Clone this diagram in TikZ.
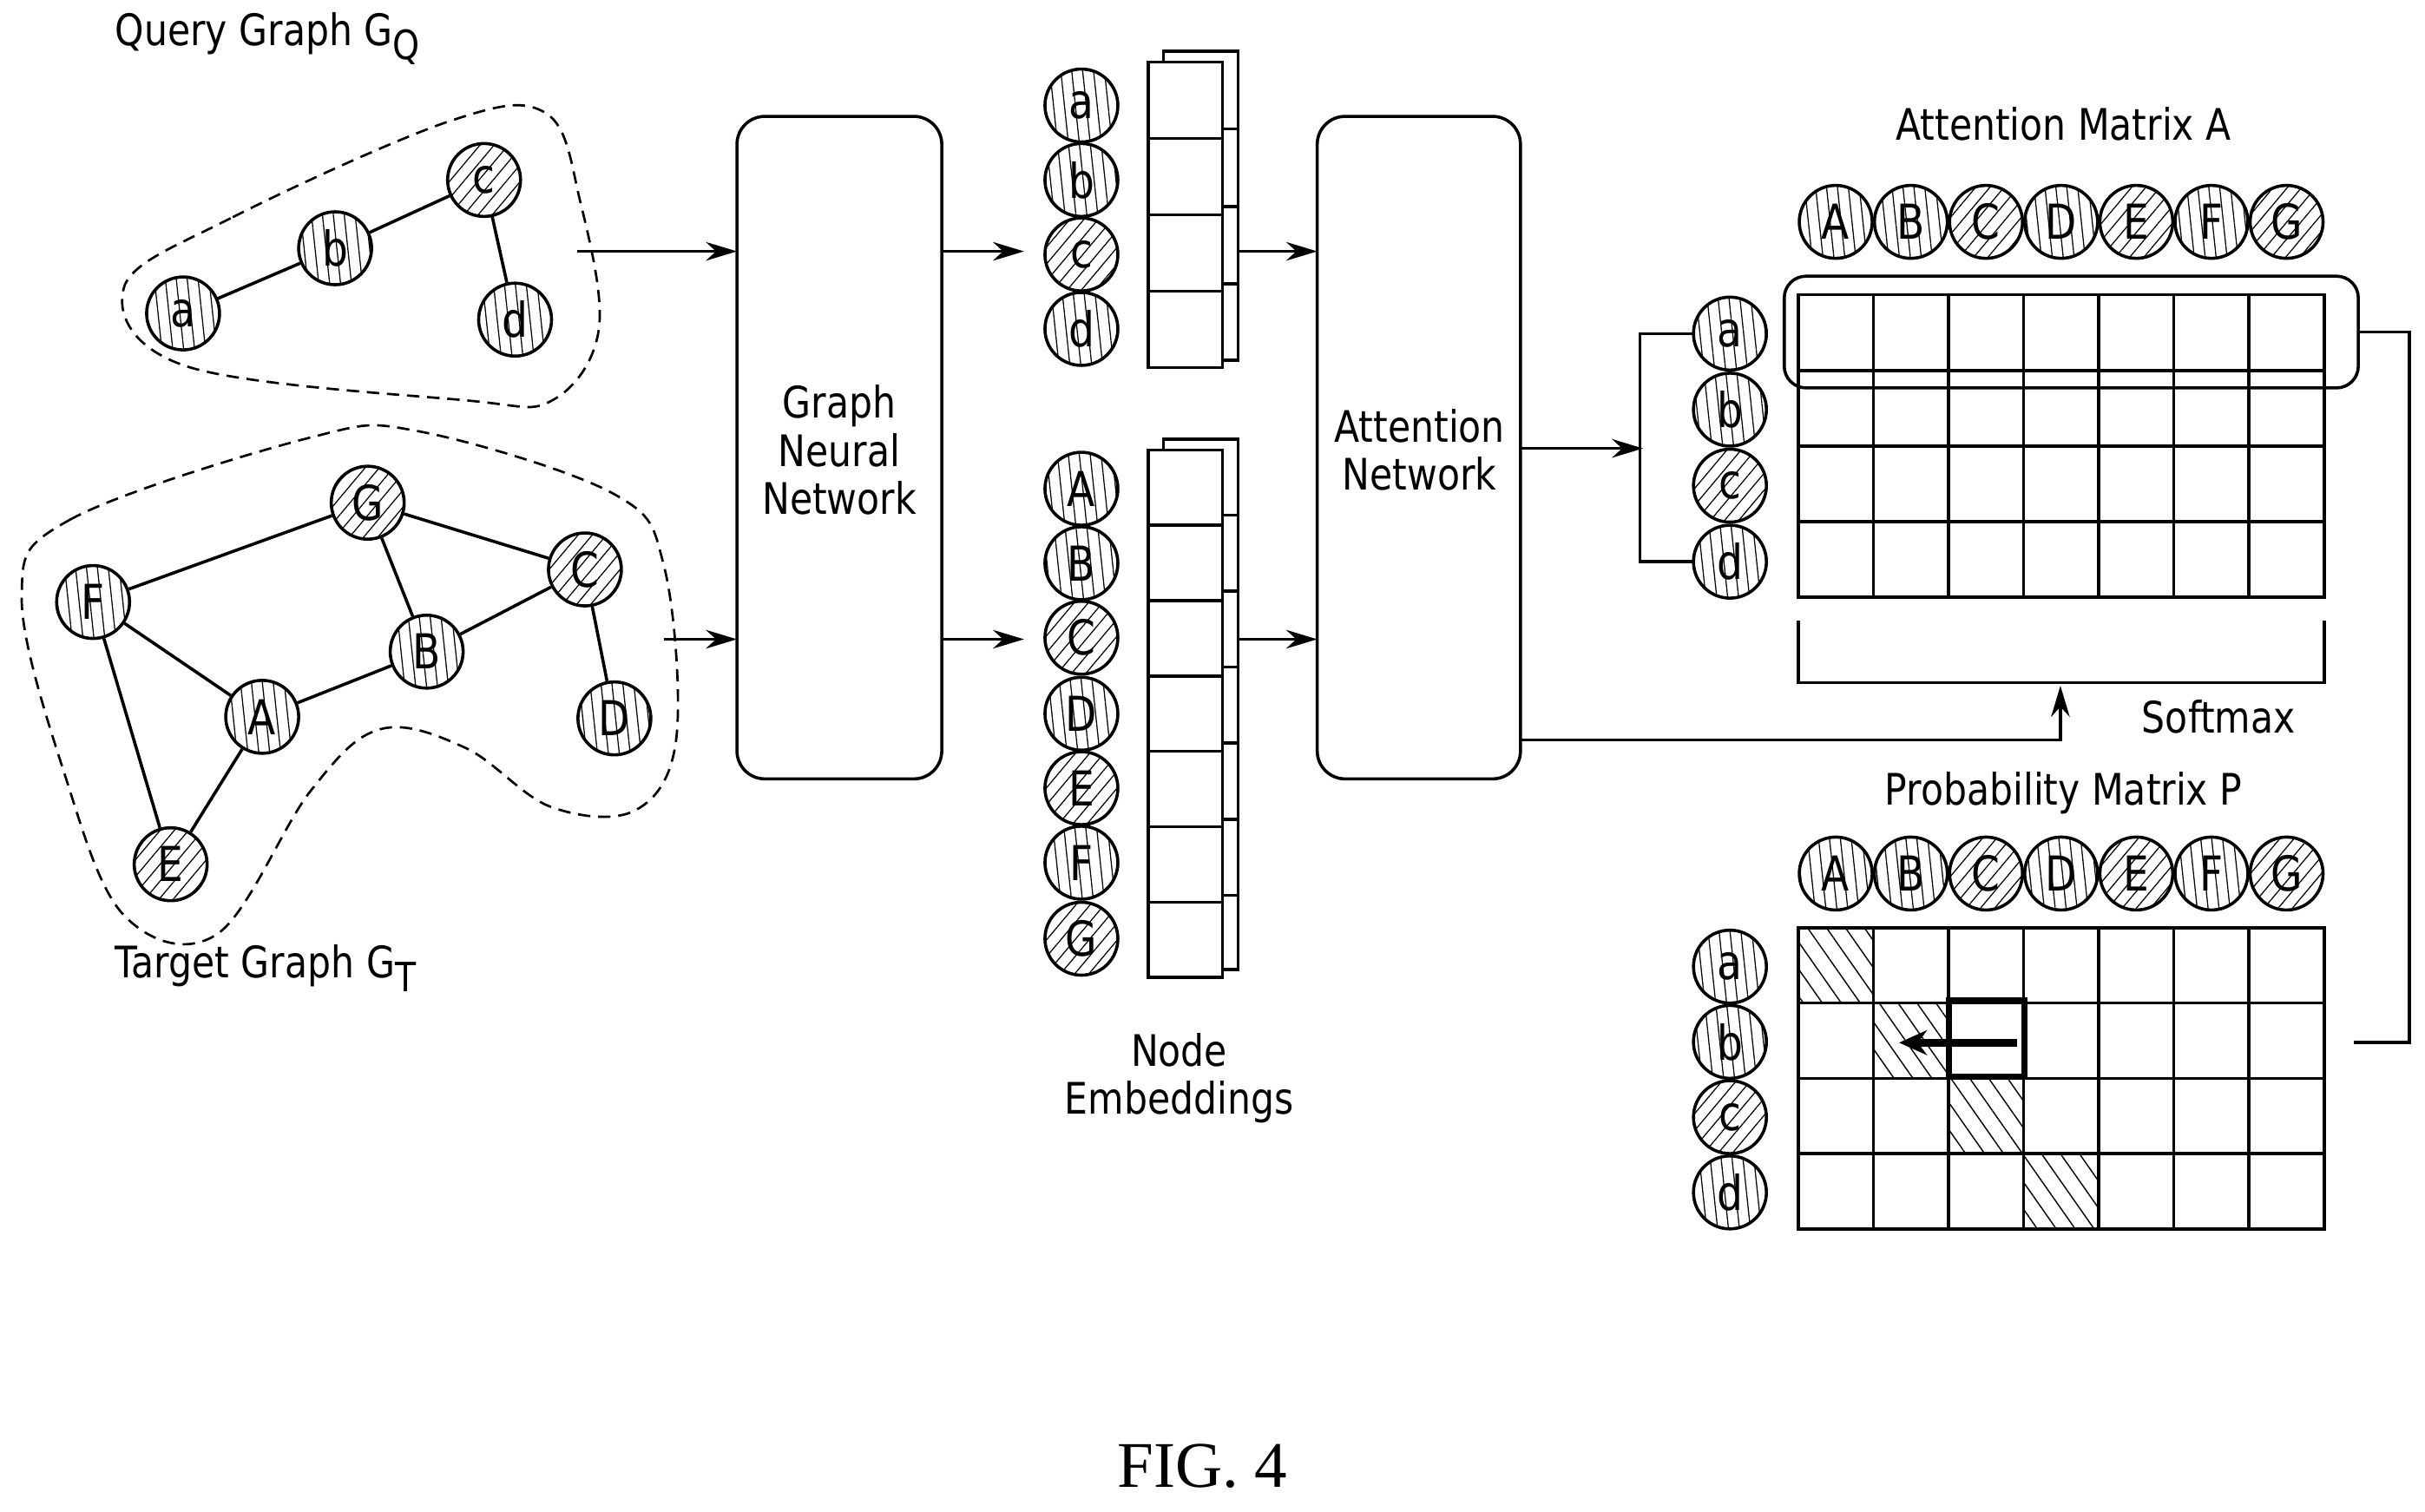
\documentclass[tikz,border=0pt]{standalone}
\usepackage{fontspec}
\setmainfont{DejaVu Sans}[FakeStretch=0.85]
\newfontfamily\figfont{Liberation Serif}
\usetikzlibrary{patterns.meta,arrows.meta}
\begin{document}
\begin{tikzpicture}[x=1pt,y=-1pt,line width=2pt,
  nd/.style={circle,draw,line width=2pt,minimum size=47pt,inner sep=0pt,font=\fontsize{31}{31}\selectfont},
  vl/.style={nd,pattern={Lines[angle=96,distance=7pt,line width=0.7pt]}},
  dl/.style={nd,pattern={Lines[angle=50,distance=7pt,line width=0.7pt]}},
  lbl/.style={font=\fontsize{28}{31}\selectfont,align=center},
  box/.style={draw,rounded corners=18pt,line width=2pt},
  arr/.style={-{Stealth[length=20pt,width=12pt]},line width=2pt},
  dsh/.style={line width=1.5pt,dash pattern=on 8pt off 5pt},
  hc/.style={pattern={Lines[angle=-55,distance=10pt,line width=0.8pt]}}]
\useasboundingbox (0,0) rectangle (1563,974);
% Query graph
\node[lbl,anchor=west] (tq) at (70,25) {Query Graph G\raisebox{-9pt}{\fontsize{26}{26}\selectfont Q}};
\node[vl] (qa) at (118,202) {a};
\node[vl] (qb) at (216,160) {b};
\node[dl] (qc) at (312,116) {c};
\node[vl] (qd) at (332,206) {d};
\draw (qa)--(qb) (qb)--(qc) (qc)--(qd);
\draw[dsh] plot[smooth cycle,tension=0.6] coordinates{(80,185)(150,140)(290,78)(352,73)(374,130)(386,212)(356,258)(300,258)(120,236)};
% Target graph
\node[lbl,anchor=west] (tt) at (70,624) {Target Graph G\raisebox{-9pt}{\fontsize{26}{26}\selectfont T}};
\node[dl] (G) at (237,324) {G};
\node[vl] (F) at (60,388) {F};
\node[dl] (C) at (377,367) {C};
\node[vl] (B) at (275,420) {B};
\node[vl] (A) at (169,462) {A};
\node[vl] (D) at (396,463) {D};
\node[dl] (E) at (110,557) {E};
\draw (F)--(G) (F)--(A) (F)--(E) (G)--(B) (G)--(C) (B)--(A) (B)--(C) (C)--(D) (A)--(E);
\draw[dsh] plot[smooth cycle,tension=0.6] coordinates{(14,385)(45,335)(200,282)(270,278)(395,318)(428,365)(436,475)(410,522)(355,520)(300,482)(245,470)(200,510)(140,602)(80,590)(42,500)};
% GNN
\node[box,minimum width=132pt,minimum height=427pt] (gnn) at (541,288.5) {};
\node[lbl] at (541,290) {Graph\\Neural\\Network};
\coordinate (q1) at (372,162); \coordinate (t1) at (428,412);
\draw[arr] (q1)--(475,162);
\draw[arr] (t1)--(475,412);
\draw[arr] (607,162)--(660,162);
\draw[arr] (607,412)--(660,412);
% embeddings query
\foreach \n/\y/\s in {a/68/vl,b/116/vl,c/164/dl,d/212/vl}{\node[\s] (e\n) at (697,\y) {\n};}
\draw[fill=white] (750,33) rectangle (798,232);
\foreach \y in {83,133,183} \draw (788,\y)--(798,\y);
\draw[fill=white] (740,40) rectangle (788,237);
\foreach \y in {89.25,138.5,187.75} \draw (740,\y)--(788,\y);
% embeddings target
\foreach \n/\y/\s in {A/315/vl,B/363/vl,C/411/dl,D/460/vl,E/508/dl,F/556/vl,G/605/dl}{\node[\s] (e\n) at (697,\y) {\n};}
\draw[fill=white] (750,283) rectangle (798,625);
\foreach \y in {332,381,430,479,528,577} \draw (788,\y)--(798,\y);
\draw[fill=white] (740,290) rectangle (788,630);
\foreach \i in {1,...,6} \draw (740,290+\i*48.57)--(788,290+\i*48.57);
\node[lbl] (ne) at (760,695) {Node\\Embeddings};
\draw[arr] (798,162)--(849,162);
\draw[arr] (798,412)--(849,412);
% attention
\node[box,minimum width=131pt,minimum height=427pt] (att) at (914.5,288.5) {};
\node[lbl] at (915,290) {Attention\\Network};
\draw[arr] (980,289)--(1059,289);
\draw (1092,215)--(1057,215)--(1057,362)--(1092,362);
% Attention matrix
\node[lbl] (ta) at (1330,80) {Attention Matrix A};
\foreach \n/\s [count=\i from 0] in {A/vl,B/vl,C/dl,D/vl,E/dl,F/vl,G/dl}{
  \node[\s] (ac\n) at (1183.2+\i*48.43,143) {\n};
  \node[\s] (pc\n) at (1183.2+\i*48.43,563) {\n};}
\foreach \n/\s [count=\i from 0] in {a/vl,b/vl,c/dl,d/vl}{
  \node[\s] (ar\n) at (1115,215+\i*49) {\n};
  \node[\s] (pr\n) at (1115,623+\i*48.5) {\n};}
\foreach \i in {1,...,6} {\draw (1159+\i*48.43,190)--(1159+\i*48.43,385);
  \draw (1159+\i*48.43,598)--(1159+\i*48.43,792);}
\foreach \i in {1,2,3} {\draw (1159,190+\i*48.75)--(1498,190+\i*48.75);
  \draw (1159,598+\i*48.5)--(1498,598+\i*48.5);}
\draw (1159,190) rectangle (1498,385);
\draw[rounded corners=14pt] (1150,178) rectangle (1520,250);
\draw (1520,214)--(1553,214)--(1553,672)--(1517,672);
\draw (1159,400)--(1159,440)--(1498,440)--(1498,400);
\draw[arr] (980,477)--(1328,477)--(1328,442);
\node[lbl] (sm) at (1430,462) {Softmax};
% Probability matrix
\node[lbl] (tp) at (1330,511) {Probability Matrix P};
\foreach \i in {0,1,2,3}
  \path[hc] (1159+\i*48.43,598+\i*48.5) rectangle ++(48.43,48.5);
\draw (1159,598) rectangle (1498,792);
\draw[line width=4pt] (1256,645) rectangle (1305,694);
\draw[-{Stealth[length=18pt,width=16pt]},line width=5pt] (1300,672)--(1224,672);
\node[font=\figfont\fontsize{42}{42}\selectfont] (fig) at (775,945) {FIG. 4};
\end{tikzpicture}
\end{document}
